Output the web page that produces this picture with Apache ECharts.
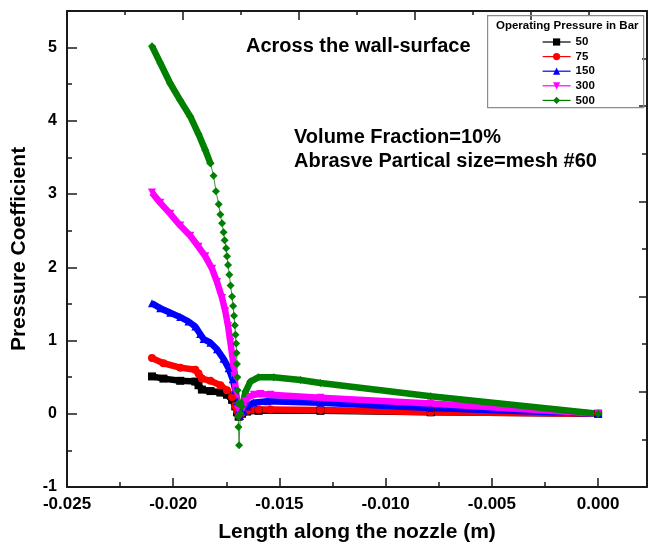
<!DOCTYPE html>
<html>
<head>
<meta charset="utf-8">
<script src="https://cdn.jsdelivr.net/npm/echarts@6/dist/echarts.min.js"></script>
<style>
  html, body { margin: 0; padding: 0; background: #fff; }
  #chart { width: 650px; height: 551px; }
</style>
</head>
<body>
<div id="chart"></div>
<script>
// ---- Data (x in m, y = pressure coefficient) ----
const seriesNames = ['50', '75', '150', '300', '500'];

const p50 = [[-0.0210,0.51],[-0.02046,0.48],[-0.01967,0.45],[-0.01896,0.44],[-0.01881,0.39],[-0.01865,0.33],
  [-0.01825,0.31],[-0.01778,0.29],[-0.01747,0.26],[-0.01723,0.19],[-0.01708,0.10],[-0.01700,0.02],[-0.01692,-0.04],
  [-0.01676,0.00],[-0.01652,0.03],[-0.01598,0.04],[-0.01307,0.04],[-0.00788,0.02],[0,0]];

const p75 = [[-0.0210,0.76],[-0.02046,0.69],[-0.01967,0.63],[-0.01896,0.60],[-0.01881,0.55],[-0.01865,0.48],
  [-0.01825,0.45],[-0.01778,0.39],[-0.01747,0.32],[-0.01723,0.23],[-0.01708,0.11],[-0.01700,0.04],[-0.01692,-0.02],
  [-0.01676,0.01],[-0.01652,0.04],[-0.01598,0.06],[-0.01542,0.06],[-0.01307,0.05],[-0.00788,0.02],[0,0]];

const p150 = [[-0.0210,1.51],[-0.02061,1.44],[-0.02014,1.38],[-0.01967,1.32],[-0.01928,1.26],[-0.01896,1.19],
  [-0.01873,1.09],[-0.01857,1.02],[-0.01825,0.97],[-0.01794,0.88],[-0.01763,0.75],[-0.01739,0.62],[-0.01720,0.47],
  [-0.01708,0.32],[-0.01699,0.17],[-0.01692,0.05],[-0.01685,-0.03],[-0.01668,0.04],[-0.01652,0.10],[-0.01623,0.15],
  [-0.01558,0.17],[-0.01307,0.15],[-0.00788,0.08],[0,0]];

const p300 = [[-0.0210,3.02],[-0.02061,2.88],[-0.02014,2.73],[-0.01967,2.57],[-0.0192,2.43],[-0.01881,2.28],
  [-0.01849,2.15],[-0.01817,1.98],[-0.01794,1.80],[-0.01770,1.58],[-0.01755,1.40],[-0.01742,1.20],[-0.01731,0.98],
  [-0.01720,0.75],[-0.01712,0.52],[-0.01704,0.28],[-0.01696,0.06],[-0.01688,-0.04],[-0.01668,0.08],[-0.01660,0.17],
  [-0.01645,0.23],[-0.01620,0.26],[-0.01590,0.27],[-0.01542,0.26],[-0.01307,0.22],[-0.00788,0.14],[0,0]];

// 500 bar: dense part, steep drop with separate diamonds, dense part after the dip
const p500Upper = [[-0.0210,5.02],[-0.02061,4.79],[-0.02014,4.51],[-0.01967,4.28],[-0.0192,4.06],[-0.01881,3.82],
  [-0.01849,3.60],[-0.01825,3.42]];
const p500Drop = [[-0.01825,3.42],[-0.0181,3.25],[-0.01799,3.04],[-0.01786,2.86],[-0.01778,2.72],[-0.0177,2.60],
  [-0.01763,2.48],[-0.01758,2.37],[-0.01751,2.26],[-0.01747,2.15],[-0.01742,2.03],[-0.01736,1.90],[-0.0173,1.75],
  [-0.01723,1.60],[-0.01718,1.47],[-0.01714,1.34],[-0.0171,1.21],[-0.01707,1.08],[-0.01704,0.96],[-0.01702,0.83],
  [-0.017,0.68],[-0.01698,0.50],[-0.01697,0.32],[-0.01695,0.14],[-0.01694,-0.04],[-0.01693,-0.18],[-0.0169,-0.43],
  [-0.01684,0.0]];
const p500Lower = [[-0.01684,0.0],[-0.01676,0.10],[-0.0166,0.30],[-0.01637,0.44],[-0.01598,0.50],[-0.01527,0.50],
  [-0.01401,0.46],[-0.01307,0.42],[-0.00788,0.24],[0,0]];

const xTickLabels = ['-0.025','-0.020','-0.015','-0.010','-0.005','0.000'];
const yTickLabels = ['-1','0','1','2','3','4','5'];

const colors = {'50':'#000000','75':'#ff0000','150':'#0000ff','300':'#ff00ff','500':'#008000'};
const symbols = {'50':'rect','75':'circle','150':'triangle','300':'triangle','500':'diamond'};
const rotations = {'50':0,'75':0,'150':0,'300':180,'500':0};

const FONT = "'Liberation Sans', Arial, sans-serif";

function band(name, data) {
  return {
    name: name, type: 'line', data: data, xAxisIndex: 0, yAxisIndex: 0,
    symbol: symbols[name], symbolRotate: rotations[name], symbolSize: 8, showAllSymbol: true,
    lineStyle: { width: 6.5, color: colors[name] },
    itemStyle: { color: colors[name] },
    emphasis: { disabled: true }
  };
}

const series = [
  band('50', p50), band('75', p75), band('150', p150), band('300', p300),
  band('500', p500Upper),
  {
    name: '500', type: 'line', data: p500Drop, xAxisIndex: 0, yAxisIndex: 0,
    symbol: 'diamond', symbolSize: 8, showAllSymbol: true,
    lineStyle: { width: 1, color: '#4a8a4a' }, itemStyle: { color: colors['500'] },
    emphasis: { disabled: true }
  },
  band('500', p500Lower)
];

function isMultiple(v, step) { return Math.abs(Math.round(v / step) * step - v) < 1e-9; }

const axisLineStyle = { color: '#1a1a1a', width: 2 };
const tickLine = { color: '#1a1a1a', width: 1.5 };
const labelStyle = { color: '#000', fontWeight: 'bold', fontFamily: FONT };

const option = {
  animation: false,
  backgroundColor: '#fff',
  textStyle: { fontFamily: FONT },
  grid: { left: 67, right: 3, top: 11, bottom: 64, containLabel: false },
  legend: {
    data: seriesNames,
    orient: 'vertical', left: 537, top: 31,
    itemWidth: 28, itemHeight: 9, itemGap: 2.6,
    textStyle: { color: '#000', fontWeight: 'bold', fontSize: 11.5, fontFamily: FONT, lineHeight: 12 },
    lineStyle: { width: 1.2 },
    selectedMode: false
  },
  xAxis: [
    {
      type: 'value', position: 'bottom', min: -0.025, max: 0.0023, interval: 0.0025,
      name: 'Length along the nozzle (m)', nameLocation: 'middle', nameGap: 35,
      nameTextStyle: { color: '#000', fontWeight: 'bold', fontSize: 21, fontFamily: FONT },
      axisLine: { show: true, onZero: false, lineStyle: axisLineStyle },
      axisTick: { show: true, inside: true, length: 5, lineStyle: tickLine },
      axisLabel: Object.assign({}, labelStyle, {
        fontSize: 17, margin: 9, showMaxLabel: false,
        formatter: function (v) {
          if (!isMultiple(v, 0.005) || v > 0.0001) return '';
          const i = Math.round((v + 0.025) / 0.005);
          return xTickLabels[i] || '';
        }
      }),
      splitLine: { show: false }
    },
    {
      type: 'value', position: 'bottom', offset: 0, min: -0.025, max: 0.0023, interval: 0.005,
      axisLine: { show: false, onZero: false },
      axisTick: { show: true, inside: true, length: 9, lineStyle: tickLine },
      axisLabel: { show: false }, splitLine: { show: false }
    },
    {
      type: 'value', position: 'top', min: 0, max: 10, interval: 2,
      axisLine: { show: true, onZero: false, lineStyle: axisLineStyle },
      axisTick: { show: true, inside: true, length: 9, lineStyle: tickLine },
      minorTick: { show: true, splitNumber: 2, length: 4, lineStyle: tickLine },
      axisLabel: { show: false }, splitLine: { show: false }
    }
  ],
  yAxis: [
    {
      type: 'value', position: 'left', min: -1, max: 5.5, interval: 0.5,
      name: 'Pressure Coefficient', nameLocation: 'middle', nameGap: 37, nameRotate: 90,
      nameTextStyle: { color: '#000', fontWeight: 'bold', fontSize: 21, fontFamily: FONT },
      axisLine: { show: true, onZero: false, lineStyle: axisLineStyle },
      axisTick: { show: true, inside: true, length: 5, lineStyle: tickLine },
      axisLabel: Object.assign({}, labelStyle, {
        fontSize: 16, margin: 10,
        formatter: function (v) {
          if (!isMultiple(v, 1) || v > 5.01) return '';
          return yTickLabels[Math.round(v) + 1] || '';
        }
      }),
      splitLine: { show: false }
    },
    {
      type: 'value', position: 'left', offset: 0, min: -1, max: 5.5, interval: 1,
      axisLine: { show: false, onZero: false },
      axisTick: { show: true, inside: true, length: 10, lineStyle: tickLine },
      axisLabel: { show: false }, splitLine: { show: false }
    },
    {
      type: 'value', position: 'right', min: 0, max: 10, interval: 2,
      axisLine: { show: true, onZero: false, lineStyle: axisLineStyle },
      axisTick: { show: true, inside: true, length: 8, lineStyle: tickLine },
      minorTick: { show: true, splitNumber: 2, length: 5, lineStyle: tickLine },
      axisLabel: { show: false }, splitLine: { show: false }
    }
  ],
  series: series,
  graphic: [
    { type: 'rect', left: 487, top: 15, z: 10,
      shape: { width: 156, height: 92 },
      style: { fill: 'rgba(255,255,255,0)', stroke: '#8c8c8c', lineWidth: 1.2 } },
    { type: 'text', left: 496, top: 20, z: 11,
      style: { text: 'Operating Pressure in Bar', fill: '#000', font: 'bold 11.5px ' + FONT } },
    { type: 'text', left: 246, top: 36, z: 11,
      style: { text: 'Across the wall-surface', fill: '#000', font: 'bold 20px ' + FONT } },
    { type: 'text', left: 294, top: 127, z: 11,
      style: { text: 'Volume Fraction=10%', fill: '#000', font: 'bold 20px ' + FONT } },
    { type: 'text', left: 294, top: 151, z: 11,
      style: { text: 'Abrasve Partical size=mesh #60', fill: '#000', font: 'bold 20px ' + FONT } }
  ]
};

const chart = echarts.init(document.getElementById('chart'), null, { renderer: 'canvas' });
chart.setOption(option);
</script>
</body>
</html>
